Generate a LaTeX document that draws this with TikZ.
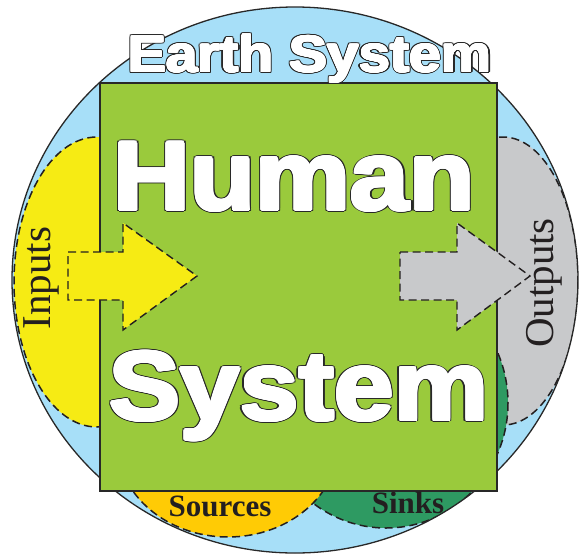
\documentclass[tikz,border=0pt]{standalone}
\usepackage{fontspec}
\setmainfont{Liberation Serif}
\newfontfamily\headfont{Liberation Sans}
\usepackage[copies]{contour}
\definecolor{earthblue}{RGB}{167,223,248}
\definecolor{humangreen}{RGB}{154,202,60}
\definecolor{inyellow}{RGB}{246,235,20}
\definecolor{outgray}{RGB}{200,201,203}
\definecolor{srcorange}{RGB}{255,203,5}
\definecolor{sinkgreen}{RGB}{46,154,98}
\definecolor{outl}{RGB}{40,40,40}
\definecolor{txt}{RGB}{35,31,32}
% heavy outlined title: dark outer ring, white thickened body
\newcommand{\heavytext}[4]{% #1 xscale, #2 outline len, #3 thicken len, #4 text
  \scalebox{#1}[1]{\makebox[0pt][l]{\contourlength{#2}\contour{outl}{\textcolor{outl}{#4}}}%
  \contourlength{#3}\contour{white}{\textcolor{white}{#4}}}}
\tikzset{
  blob/.style={draw=txt, line width=1.5pt, dash pattern=on 8pt off 4.5pt},
  arrowshape/.style={draw=txt, line width=1.4pt, dash pattern=on 8pt off 4.5pt},
  bigtitle/.style={inner sep=0pt, anchor=base, font=\headfont\bfseries\fontsize{97.8}{110}\selectfont},
  smalltitle/.style={inner sep=0pt, anchor=base, font=\headfont\bfseries\fontsize{51.7}{60}\selectfont},
  sidelabel/.style={text=txt, inner sep=0pt, anchor=base, rotate=90, font=\fontsize{41}{48}\selectfont},
  botlabel/.style={text=txt, inner sep=0pt, anchor=base, font=\bfseries\fontsize{31}{36}\selectfont}
}
\begin{document}
\begin{tikzpicture}[x=1pt,y=-1pt]
\useasboundingbox (0,0) rectangle (579,555);
% earth circle
\fill[earthblue] (295,280) ellipse [x radius=283, y radius=273];
\begin{scope}
  \clip (295,280) ellipse [x radius=283, y radius=273];
  \path[blob, fill=inyellow] (97,282) ellipse [x radius=83, y radius=145];
  \path[blob, fill=outgray] (503,281) ellipse [x radius=75, y radius=144];
  \path[blob, fill=sinkgreen] (386,403) ellipse [x radius=122, y radius=125];
  \path[blob, fill=srcorange] (228,442) ellipse [x radius=111, y radius=95];
\end{scope}
\draw[outl, line width=1.3pt] (295,280) ellipse [x radius=283, y radius=273];
% human system box
\node[draw=outl, line width=2pt, fill=humangreen, minimum width=397pt, minimum height=408pt, inner sep=0pt] (human) at (298.5,287) {};
% arrows
\path[arrowshape, fill=inyellow] (68,252) -- (123,252) -- (123,223) -- (197,276) -- (123,330) -- (123,300) -- (68,300) -- cycle;
\path[arrowshape, fill=outgray] (400,252) -- (457,252) -- (457,223) -- (530,276) -- (457,330) -- (457,300) -- (400,300) -- cycle;
% texts
\node[smalltitle] (earth) at (310,72) {\heavytext{1.10}{1.9pt}{0.8pt}{Earth System}};
\node[bigtitle] (humanlbl) at (294,210) {\heavytext{1.09}{2.8pt}{1.6pt}{Human}};
\node[bigtitle] (systemlbl) at (299,420) {\heavytext{1.09}{2.8pt}{1.6pt}{System}};
\node[sidelabel] (inputs) at (50,278) {Inputs};
\node[sidelabel] (outputs) at (553,283) {Outputs};
\node[botlabel] (sources) at (220,516) {Sources};
\node[botlabel] (sinks) at (408,513) {Sinks};
\end{tikzpicture}
\end{document}
